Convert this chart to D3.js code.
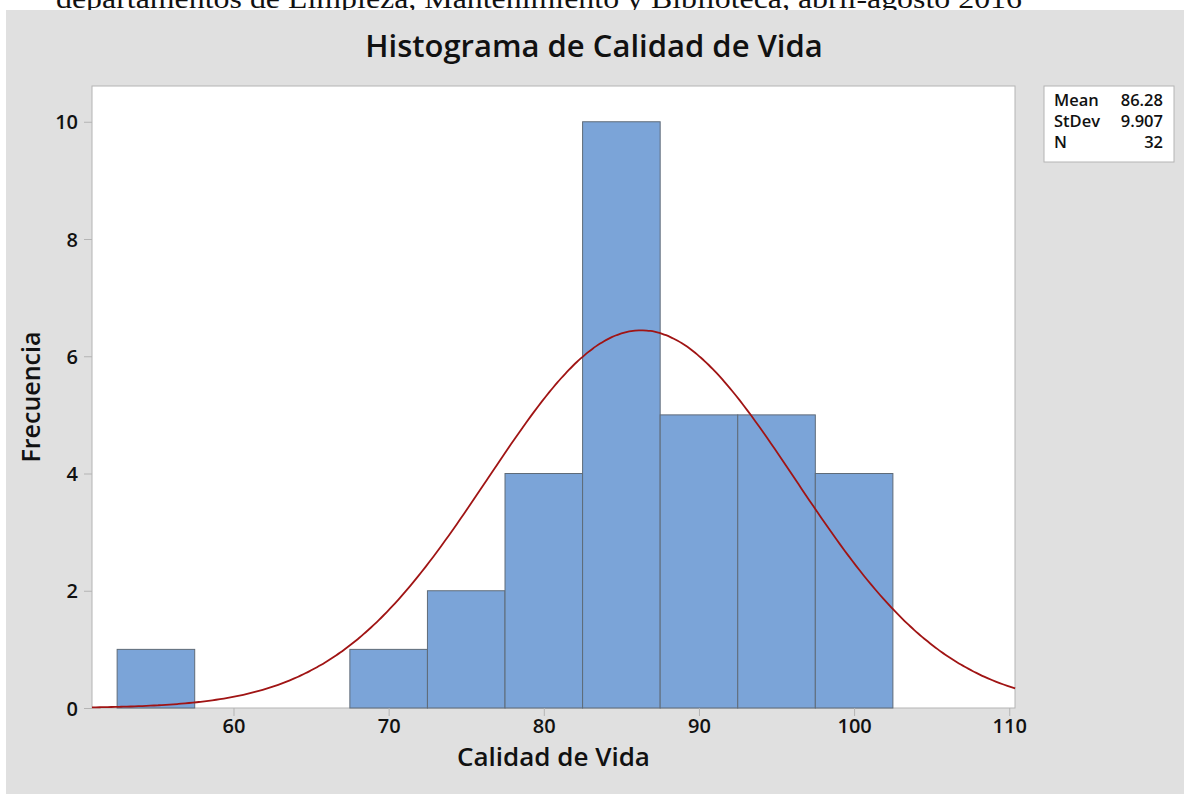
<html>
<head>
<script src="https://d3js.org/d3.v7.min.js"></script>
<style>
    body { margin: 0; background: #fff; }
    text { font-family: 'Open Sans', 'Noto Sans', sans-serif; fill: #111; }
</style>
</head>
<body>
<svg id="chart" width="1184" height="794"></svg>
<script>
    // histogram data (bins of width 5)
    const binCenters = [55, 60, 65, 70, 75, 80, 85, 90, 95, 100];
    const binCounts = [1, 0, 0, 1, 2, 4, 10, 5, 5, 4];
    const binWidth = 5;
    const xTicks = [60, 70, 80, 90, 100, 110];
    const yTicks = [0, 2, 4, 6, 8, 10];

    // summary stats shown in the legend
    const statLabels = ['Mean', 'StDev', 'N'];
    const statValues = ['86.28', '9.907', '32'];
    const mean = 86.28, stdev = 9.907, n = 32;

    const svg = d3.select('#chart');

    // text cut off at the top of the page
    svg.append('text')
        .attr('x', 56).attr('y', 8)
        .style('font-family', "'Liberation Serif', 'DejaVu Serif', serif")
        .style('font-size', '27px')
        .attr('fill', '#000')
        .attr('textLength', 966)
        .attr('lengthAdjust', 'spacingAndGlyphs')
        .text('departamentos de Limpieza, Mantenimiento y Biblioteca, abril-agosto 2016');

    svg.append('rect')
        .attr('x', 6).attr('y', 10)
        .attr('width', 1178).attr('height', 784)
        .attr('fill', '#e0e0e0');

    const plot = { left: 92, top: 86, right: 1015, bottom: 708 };

    const x = d3.scaleLinear().domain([50.88, 110.37]).range([plot.left, plot.right]);
    const y = d3.scaleLinear().domain([0, 10.61]).range([plot.bottom, plot.top]);

    svg.append('rect')
        .attr('x', plot.left).attr('y', plot.top)
        .attr('width', plot.right - plot.left).attr('height', plot.bottom - plot.top)
        .attr('fill', '#fff')
        .attr('stroke', '#b4b4b4').attr('stroke-width', 1);

    // bars
    const bins = binCenters.map((c, i) => ({ x0: c - binWidth / 2, x1: c + binWidth / 2, count: binCounts[i] }))
        .filter(d => d.count > 0);

    svg.append('g')
        .selectAll('rect')
        .data(bins)
        .join('rect')
        .attr('x', d => x(d.x0))
        .attr('y', d => y(d.count))
        .attr('width', d => x(d.x1) - x(d.x0))
        .attr('height', d => y(0) - y(d.count))
        .attr('fill', '#7ba4d8')
        .attr('stroke', '#5f6b78')
        .attr('stroke-width', 1);

    // fitted normal curve from the legend's mean / stdev / N
    const xs = d3.range(x.domain()[0], x.domain()[1] + 0.01, 0.25);
    const curve = xs.map(v => [v, n * binWidth / (stdev * Math.sqrt(2 * Math.PI)) * Math.exp(-0.5 * ((v - mean) / stdev) ** 2)]);

    svg.append('path')
        .datum(curve)
        .attr('fill', 'none')
        .attr('stroke', '#a01414')
        .attr('stroke-width', 1.8)
        .attr('d', d3.line().x(d => x(d[0])).y(d => y(d[1])).curve(d3.curveMonotoneX));

    // axes
    const xAxis = svg.append('g')
        .attr('transform', `translate(0, ${plot.bottom})`)
        .call(d3.axisBottom(x).tickValues(xTicks).tickSize(8).tickPadding(3));
    const yAxis = svg.append('g')
        .attr('transform', `translate(${plot.left}, 0)`)
        .call(d3.axisLeft(y).tickValues(yTicks).tickSize(8).tickPadding(6));

    [xAxis, yAxis].forEach(a => {
        a.select('.domain').remove();
        a.selectAll('line').attr('stroke', '#b4b4b4');
        a.selectAll('text')
            .style('font-family', "'Open Sans', sans-serif")
            .style('font-size', '20px')
            .style('font-weight', 600)
            .attr('fill', '#000');
    });
    yAxis.selectAll('text').attr('dy', '0.36em');

    // title and axis labels
    svg.append('text')
        .attr('x', 594).attr('y', 57)
        .attr('text-anchor', 'middle')
        .style('font-size', '31px').style('font-weight', 600)
        .attr('fill', '#000')
        .text('Histograma de Calidad de Vida');

    svg.append('text')
        .attr('x', (plot.left + plot.right) / 2).attr('y', 766)
        .attr('text-anchor', 'middle')
        .style('font-size', '26px').style('font-weight', 600)
        .attr('fill', '#000')
        .text('Calidad de Vida');

    svg.append('text')
        .attr('transform', `translate(40, ${(plot.top + plot.bottom) / 2}) rotate(-90)`)
        .attr('text-anchor', 'middle')
        .style('font-size', '25px').style('font-weight', 600)
        .attr('fill', '#000')
        .text('Frecuencia');

    // legend box
    const legend = svg.append('g').attr('transform', 'translate(1044, 86)');
    legend.append('rect')
        .attr('width', 130).attr('height', 76)
        .attr('fill', '#fff').attr('stroke', '#b4b4b4');
    legend.selectAll('text.lab')
        .data(statLabels)
        .join('text')
        .attr('class', 'lab')
        .attr('x', 10).attr('y', (d, i) => 20 + i * 21)
        .style('font-size', '16.5px').style('font-weight', 600)
        .attr('fill', '#000')
        .text(d => d);
    legend.selectAll('text.val')
        .data(statValues)
        .join('text')
        .attr('class', 'val')
        .attr('x', 119).attr('y', (d, i) => 20 + i * 21)
        .attr('text-anchor', 'end')
        .style('font-size', '16.5px').style('font-weight', 600)
        .attr('fill', '#000')
        .text(d => d);
</script>
</body>
</html>
